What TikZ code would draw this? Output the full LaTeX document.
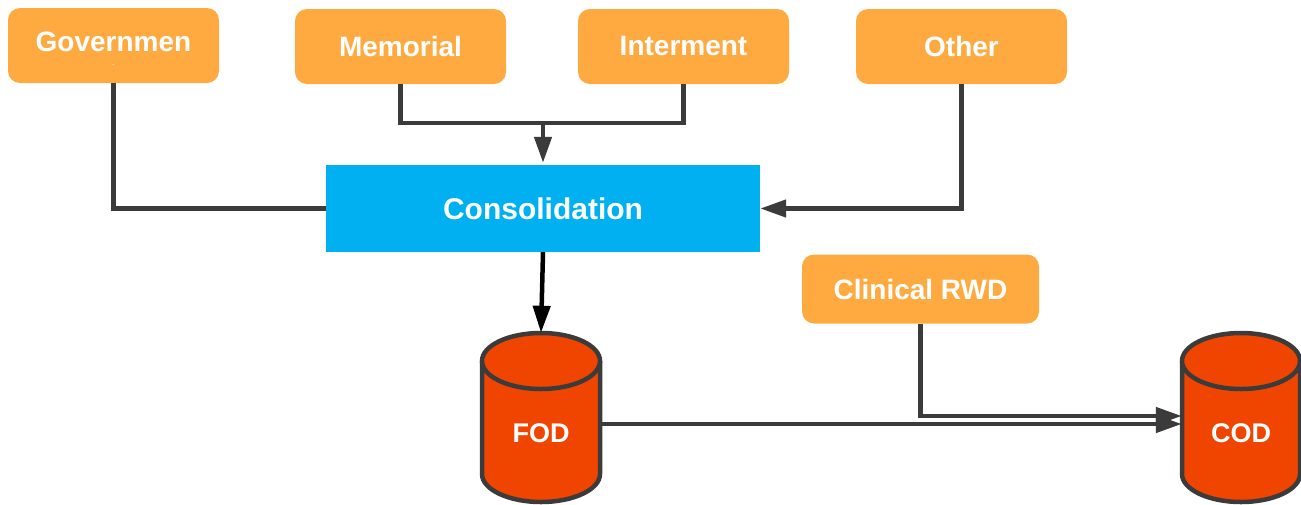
\documentclass[tikz,border=0pt]{standalone}
\usepackage{fontspec}
\setmainfont{Liberation Sans}
\usetikzlibrary{arrows.meta}
\definecolor{srcfill}{HTML}{FFAA40}
\definecolor{consfill}{HTML}{00B0F0}
\definecolor{dbfill}{HTML}{F04500}
\definecolor{wire}{HTML}{3B3B3B}
\tikzset{
  srcbox/.style={rectangle, rounded corners=12pt, fill=srcfill, text=white,
    minimum width=211pt, minimum height=75pt, inner sep=0pt,
    font=\fontsize{28}{32}\selectfont\bfseries},
  consbox/.style={rectangle, fill=consfill, text=white,
    minimum width=434pt, minimum height=87pt, inner sep=0pt,
    font=\fontsize{30}{34}\selectfont\bfseries},
  dbnode/.style={rectangle, minimum width=118pt, minimum height=169pt,
    inner sep=0pt, text=white, font=\fontsize{27}{30}\selectfont\bfseries},
  wireline/.style={draw=wire, line width=4.5pt},
  feed/.style={wireline, -{Triangle[length=26pt,width=17pt]}},
  dbcyl/.pic={
    \path[fill=dbfill] (-59,-56.5) -- (-59,56.5)
      arc[start angle=180, end angle=360, x radius=59pt, y radius=28pt]
      -- (59,-56.5) -- cycle;
    \draw[draw=wire, line width=4.5pt, line join=round] (-59,-56.5) -- (-59,56.5)
      arc[start angle=180, end angle=360, x radius=59pt, y radius=28pt]
      -- (59,-56.5);
    \filldraw[fill=dbfill, draw=wire, line width=4.5pt] (0,-56.5) ellipse[x radius=59pt, y radius=28pt];
  }
}
\begin{document}
\begin{tikzpicture}[x=1pt, y=-1pt]
\useasboundingbox (0,0) rectangle (1301,504);

% source boxes
\node[srcbox] (gov) at (113.5,45.5) {};
\node[text=white, font=\fontsize{28}{32}\selectfont\bfseries] (govt) at (113.5,42) {Governmen};
\node[text=white, font=\fontsize{8}{9}\selectfont] (govd) at (113.5,66) {-};
\node[srcbox] (mem) at (400.5,46.5) {Memorial};
\node[srcbox] (int) at (683.5,46.5) {Interment};
\node[srcbox] (oth) at (961.5,46.5) {Other};

% consolidation step
\node[consbox] (cons) at (543,208.5) {Consolidation};

% clinical data source
\node[srcbox, minimum width=237pt, minimum height=69pt] (crwd) at (920.5,289) {Clinical RWD};

% databases
\pic at (541,417.5) {dbcyl};
\node[dbnode] (fod) at (541,417.5) {};
\node[text=white, font=\fontsize{27}{30}\selectfont\bfseries] (fodt) at (541,433) {FOD};
\pic at (1241,417.5) {dbcyl};
\node[dbnode] (cod) at (1241,417.5) {};
\node[text=white, font=\fontsize{27}{30}\selectfont\bfseries] (codt) at (1241,433) {COD};

% connectors
\coordinate (j) at (543,123);
\draw[wireline] (gov.south) |- (cons.west);
\draw[wireline] (mem.south) -- (mem.south |- j) -- (int.south |- j) -- (int.south);
\draw[feed, shorten >=2pt] (j) -- (cons.north);
\draw[feed] (oth.south) |- (cons.east);
\draw[line width=4.5pt, -{Triangle[length=27pt,width=17pt]}] (cons.south) -- (fod.north);
\draw[feed] ([yshift=-6.5pt]fod.east) -- ([yshift=-6.5pt]cod.west);
\draw[feed] (crwd.south) |- ([yshift=1.5pt]cod.west);
\end{tikzpicture}
\end{document}
